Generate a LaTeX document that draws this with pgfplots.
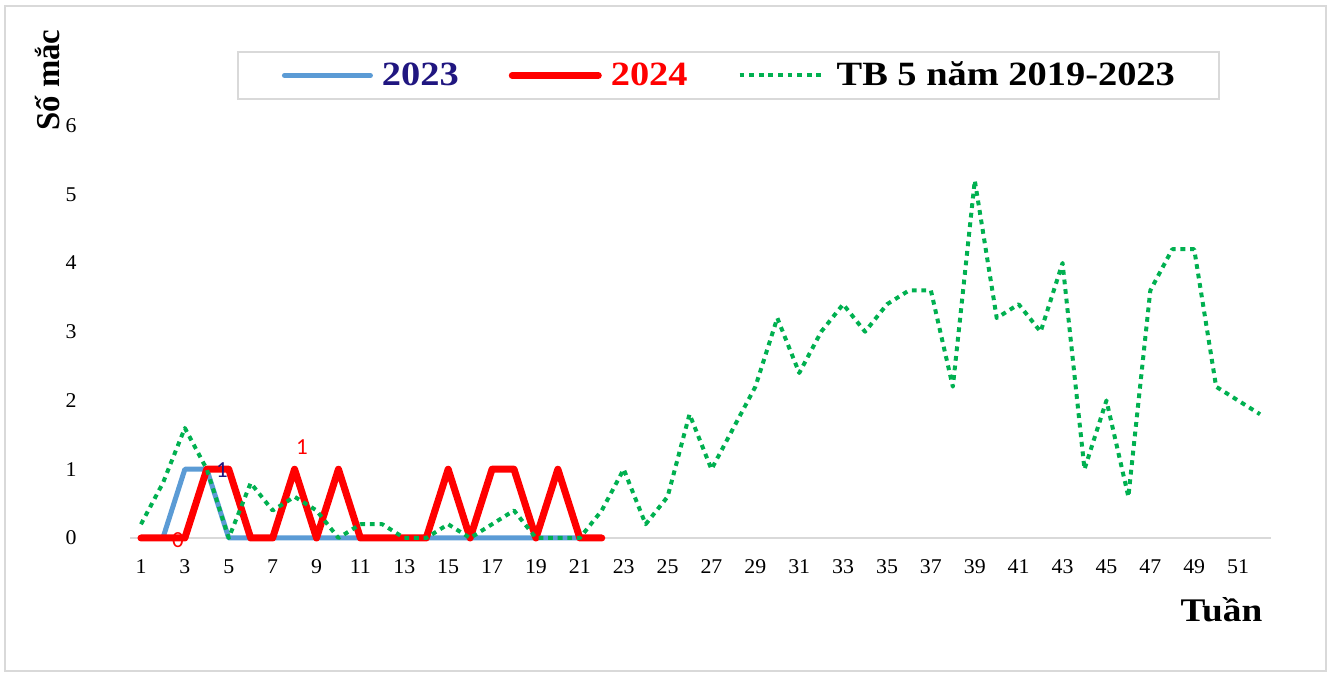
\documentclass[border=0pt]{standalone}
\usepackage{fontspec}
\setmainfont{Liberation Serif}[FakeStretch=1.13]
\newfontfamily\tickfont{Liberation Serif}[FakeStretch=1.04]
\newfontfamily\calib{Carlito}
\usepackage{pgfplots}
\pgfplotsset{compat=1.18}
\definecolor{c23}{HTML}{5B9BD5}
\definecolor{c24}{HTML}{FF0000}
\definecolor{ctb}{HTML}{00B050}
\definecolor{navy}{RGB}{32,22,128}
\definecolor{framec}{HTML}{D9D9D9}

\pgfplotstableread{
w v
1 0
2 0
3 1
4 1
5 0
6 0
7 0
8 0
9 0
10 0
11 0
12 0
13 0
14 0
15 0
16 0
17 0
18 0
19 0
20 0
21 0
22 0
}\dataA

\pgfplotstableread{
w v
1 0
2 0
3 0
4 1
5 1
6 0
7 0
8 1
9 0
10 1
11 0
12 0
13 0
14 0
15 1
16 0
17 1
18 1
19 0
20 1
21 0
22 0
}\dataB

\pgfplotstableread{
w v
1 0.2
2 0.8
3 1.6
4 1.0
5 0.0
6 0.8
7 0.4
8 0.6
9 0.4
10 0.0
11 0.2
12 0.2
13 0.0
14 0.0
15 0.2
16 0.0
17 0.2
18 0.4
19 0.0
20 0.0
21 0.0
22 0.4
23 1.0
24 0.2
25 0.6
26 1.8
27 1.0
28 1.6
29 2.2
30 3.2
31 2.4
32 3.0
33 3.4
34 3.0
35 3.4
36 3.6
37 3.6
38 2.2
39 5.2
40 3.2
41 3.4
42 3.0
43 4.0
44 1.0
45 2.0
46 0.6
47 3.6
48 4.2
49 4.2
50 2.2
51 2.0
52 1.8
}\dataTB

\begin{document}
\begin{tikzpicture}[x=1pt,y=1pt]
\useasboundingbox (0,0) rectangle (666.5,336.5);
\draw[framec, line width=1pt] (2.5,1) rectangle (663,333.5);
\begin{axis}[
  at={(65pt,67.5pt)}, anchor=south west,
  scale only axis, width=570.5pt, height=206.25pt,
  xmin=0.5, xmax=52.5, ymin=0, ymax=6,
  clip=false,
  axis x line*=bottom, axis y line*=left,
  x axis line style={framec, line width=1pt, -},
  y axis line style={draw=none},
  tick style={draw=none},
  xtick={1,3,...,51}, ytick={0,1,...,6},
  /pgf/number format/assume math mode=true,
  tick label style={font=\tickfont\fontsize{10.5}{12}\selectfont, inner sep=0pt},
  xticklabel style={anchor=north},
  yticklabel style={anchor=east},
  xticklabel shift=10.5pt,
  yticklabel shift=26.5pt,
  legend columns=3,
  legend style={at={(0.5245,1.1212)}, anchor=center,
    draw=framec, line width=1pt, inner xsep=22pt, inner ysep=5pt,
    font=\fontsize{17}{17}\selectfont\bfseries,
    nodes={inner sep=0pt},
    /tikz/every odd column/.append style={column sep=4.5pt},
    /tikz/every even column/.append style={column sep=25pt}},
  legend image code/.code={\draw[#1] (0pt,0pt) -- (43pt,0pt);},
]
\addplot[c23, line width=2.5pt, line cap=round, line join=round] table[x=w,y=v] {\dataA};
\addlegendentry{\textcolor{navy}{2023}}
\addplot[c24, line width=3.5pt, line cap=round, line join=round] table[x=w,y=v] {\dataB};
\addlegendentry{\textcolor{c24}{2024}}
\addplot[ctb, line width=2pt, line join=round, dash pattern=on 2.4pt off 2.4pt] table[x=w,y=v] {\dataTB};
\addlegendentry{TB 5 năm 2019-2023}
\node[font=\calib\fontsize{11.5}{12}\selectfont, text=c24, inner sep=0pt] at (axis cs:2.69,-0.03) {0};
\node[font=\calib\fontsize{11.5}{12}\selectfont, text=navy, inner sep=0pt] at (axis cs:4.69,0.99) {1};
\node[font=\calib\fontsize{11.5}{12}\selectfont, text=c24, inner sep=0pt] at (axis cs:8.34,1.32) {1};
\end{axis}
\node[anchor=base, font=\fontsize{16.5}{17}\selectfont\bfseries, inner sep=0pt] at (610.75,25.5) {Tuần};
\node[anchor=base west, rotate=90, font=\fontsize{14.5}{16}\selectfont\bfseries, inner sep=0pt] at (29.5,271) {\scalebox{1}[1.15]{Số mắc}};
\end{tikzpicture}
\end{document}
